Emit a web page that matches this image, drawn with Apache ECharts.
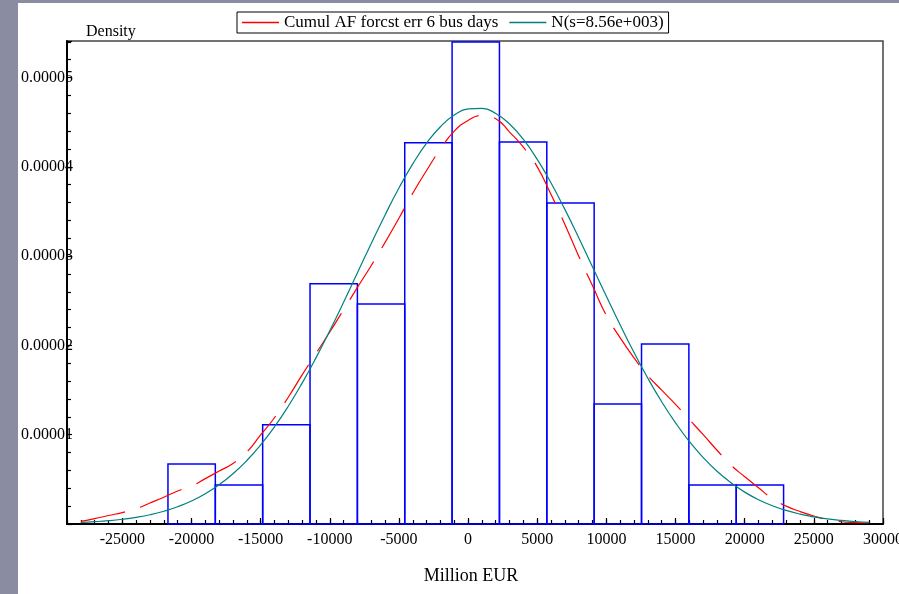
<!DOCTYPE html>
<html>
<head>
<meta charset="utf-8">
<script src="https://cdn.jsdelivr.net/npm/echarts@6/dist/echarts.min.js"></script>
<style>
html, body { margin: 0; padding: 0; width: 899px; height: 594px; overflow: hidden; background: #8a8ca1; }
#chart { position: absolute; left: 18px; top: 3px; width: 881px; height: 591px; background: #fff; }
</style>
</head>
<body>
<div id="chart"></div>
<script>
// histogram bins (Million EUR) and bar heights (density, in units of 1e-5)
var binEdges = [-21700, -18276, -14852, -11428, -8004, -4580, -1156, 2268, 5692, 9116, 12540, 15964, 19388, 22812];
var binDensity = [0.672, 0.437, 1.112, 2.691, 2.464, 4.270, 5.398, 4.278, 3.595, 1.344, 2.016, 0.437, 0.437];

// x positions where the two curves were read (Million EUR)
var curveX = [-28000, -27000, -26000, -25000, -24000, -23000, -22000, -21000, -20000, -19000,
  -18000, -17000, -16000, -15000, -14000, -13000, -12000, -11000, -10000, -9000,
  -8000, -7000, -6000, -5000, -4000, -3000, -2000, -1000, 0, 1000,
  2000, 3000, 4000, 5000, 6000, 7000, 8000, 9000, 10000, 11000,
  12000, 13000, 14000, 15000, 16000, 17000, 18000, 19000, 20000, 21000,
  22000, 23000, 24000, 25000, 26000, 27000, 28000, 29000];
// red dashed density (units of 1e-5)
var kernelY = [0.03, 0.06, 0.095, 0.128, 0.17, 0.235, 0.30, 0.37, 0.425, 0.508,
  0.593, 0.678, 0.805, 0.997, 1.19, 1.42, 1.67, 1.91, 2.15, 2.40,
  2.65, 2.896, 3.155, 3.425, 3.705, 3.96, 4.20, 4.40, 4.52, 4.575,
  4.54, 4.39, 4.22, 4.00, 3.69, 3.355, 3.00, 2.668, 2.335, 2.084,
  1.86, 1.66, 1.499, 1.34, 1.17, 1.00, 0.826, 0.66, 0.53, 0.405,
  0.285, 0.20, 0.14, 0.09, 0.05, 0.025, 0.016, 0.011];
// teal normal curve (units of 1e-5)
var normalY = [0.018, 0.026, 0.037, 0.053, 0.075, 0.104, 0.143, 0.193, 0.258, 0.339,
  0.440, 0.563, 0.711, 0.886, 1.088, 1.319, 1.578, 1.861, 2.165, 2.485,
  2.814, 3.142, 3.462, 3.763, 4.034, 4.266, 4.450, 4.580, 4.649, 4.655,
  4.599, 4.481, 4.307, 4.084, 3.820, 3.524, 3.207, 2.879, 2.550, 2.228,
  1.920, 1.632, 1.369, 1.133, 0.924, 0.744, 0.591, 0.463, 0.357, 0.272,
  0.205, 0.152, 0.111, 0.080, 0.057, 0.040, 0.028, 0.019];

var xLabelValues = [-25000, -20000, -15000, -10000, -5000, 0, 5000, 10000, 15000, 20000, 25000, 30000];

var serif = "'Liberation Serif', 'DejaVu Serif', serif";

var chart = echarts.init(document.getElementById("chart"));

chart.setOption({
  animation: false,
  grid: {
    left: 49,
    right: 16,
    top: 38,
    bottom: 70,
    outerBoundsMode: "none",
    containLabel: false,
    show: true,
    borderColor: "#444",
    borderWidth: 1.5,
    backgroundColor: "transparent"
  },
  legend: {
    left: 219,
    top: 9,
    padding: [2, 5, 2, 5],
    borderColor: "#000",
    borderWidth: 1,
    icon: "rect",
    itemWidth: 37,
    itemHeight: 1.3,
    itemGap: 11,
    textStyle: { fontFamily: serif, fontSize: 17, color: "#000" },
    data: ["Cumul AF forcst err 6 bus days", "N(s=8.56e+003)"]
  },
  xAxis: [
    {
      type: "value",
      min: -29000,
      max: 30000,
      position: "bottom",
      name: "Million EUR",
      nameLocation: "middle",
      nameGap: 43,
      nameTextStyle: { fontFamily: serif, fontSize: 18, color: "#000", padding: [0, 8, 0, 0] },
      axisLine: { show: true, onZero: false, lineStyle: { color: "#000", width: 2 } },
      axisTick: { show: true, inside: true, length: 6, customValues: xLabelValues, lineStyle: { color: "#000", width: 1.2 } },
      axisLabel: {
        customValues: xLabelValues,
        margin: 8,
        fontFamily: serif,
        fontSize: 16,
        color: "#000",
        hideOverlap: false,
        formatter: function (v) {
          return String(v);
        }
      },
      splitLine: { show: false }
    },
    {
      // minor ticks every 1000
      type: "value",
      min: -29000,
      max: 30000,
      interval: 1000,
      position: "bottom",
      offset: 0,
      axisLine: { show: false, onZero: false },
      axisTick: { show: true, inside: true, length: 4, lineStyle: { color: "#000", width: 1.2 } },
      axisLabel: { show: false },
      splitLine: { show: false }
    }
  ],
  yAxis: {
    type: "value",
    min: 0,
    max: 5.41,
    interval: 1,
    name: "Density",
    nameLocation: "end",
    nameGap: 1,
    nameTextStyle: { fontFamily: serif, fontSize: 16, color: "#000", align: "left", padding: [0, 0, 0, 19] },
    axisLine: { show: true, onZero: false, lineStyle: { color: "#000", width: 2 } },
    axisTick: { show: true, inside: true, length: 5, lineStyle: { color: "#000", width: 1.2 } },
    minorTick: { show: true, splitNumber: 5, length: 4, lineStyle: { color: "#000", width: 1.2 } },
    axisLabel: {
      margin: -6,
      showMaxLabel: false,
      fontFamily: serif,
      fontSize: 16,
      color: "#000",
      formatter: function (v) {
        return v === 0 ? "" : (v / 1e5).toFixed(5);
      }
    },
    splitLine: { show: false },
    minorSplitLine: { show: false }
  },
  series: [
    {
      name: "histogram",
      type: "custom",
      renderItem: function (params, api) {
        var p0 = api.coord([api.value(0), api.value(2)]);
        var p1 = api.coord([api.value(1), 0]);
        return {
          type: "rect",
          shape: { x: p0[0], y: p0[1], width: p1[0] - p0[0], height: p1[1] - p0[1] },
          style: { fill: "none", stroke: "#0000ff", lineWidth: 1.5 }
        };
      },
      encode: { x: [0, 1], y: 2 },
      data: binDensity.map(function (d, i) {
        return [binEdges[i], binEdges[i + 1], d];
      })
    },
    {
      name: "Cumul AF forcst err 6 bus days",
      type: "line",
      symbol: "none",
      smooth: true,
      lineStyle: { color: "#ff0000", width: 1.2, type: [45, 16] },
      itemStyle: { color: "#ff0000" },
      data: curveX.map(function (x, i) {
        return [x, kernelY[i]];
      })
    },
    {
      name: "N(s=8.56e+003)",
      type: "line",
      symbol: "none",
      smooth: true,
      lineStyle: { color: "#008080", width: 1.2 },
      itemStyle: { color: "#008080" },
      data: curveX.map(function (x, i) {
        return [x, normalY[i]];
      })
    }
  ]
});
</script>
</body>
</html>
